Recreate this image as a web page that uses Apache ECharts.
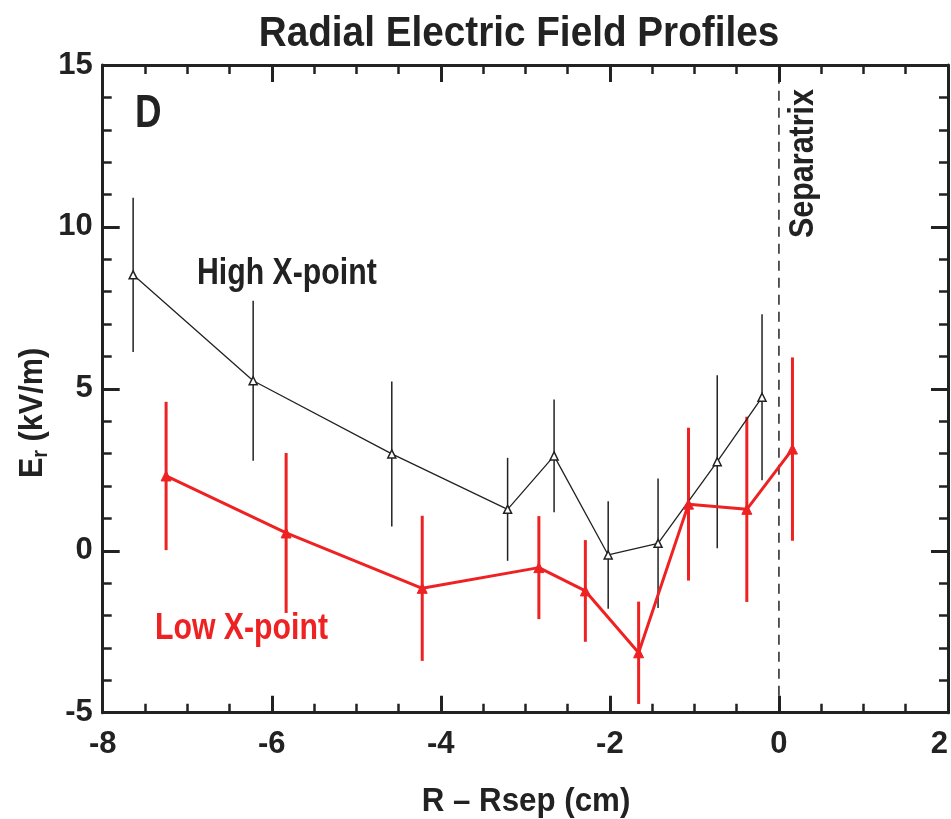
<!DOCTYPE html>
<html><head><meta charset="utf-8">
<script src="https://cdn.jsdelivr.net/npm/echarts@6/dist/echarts.min.js"></script>
<style>html,body{margin:0;padding:0;background:#fff}#c{width:951px;height:819px}</style>
</head><body><div id="c"></div>
<script>
const highX = [-7.64, -6.22, -4.58, -3.21, -2.66, -2.02, -1.43, -0.73, -0.20];
const highY = [8.52, 5.25, 2.99, 1.28, 2.93, -0.13, 0.23, 2.75, 4.74];
const highErr = [2.38, 2.47, 2.24, 1.59, 1.74, 1.66, 2.0, 2.67, 2.56];
const lowX = [-7.25, -5.83, -4.22, -2.84, -2.29, -1.66, -1.07, -0.38, 0.16];
const lowY = [2.31, 0.55, -1.16, -0.52, -1.24, -3.15, 1.44, 1.28, 3.14];
const lowErr = [2.29, 2.47, 2.24, 1.59, 1.57, 1.58, 2.36, 2.86, 2.83];
const xTicks = [-8, -6, -4, -2, 0, 2];
const yTicks = [-5, 0, 5, 10, 15];

const FONT = "'Liberation Sans',Arial,sans-serif";
const INK = '#222';
const RED = '#ee2222';
const chart = echarts.init(document.getElementById('c'));
function pts(xs, ys){ return xs.map((x,i)=>[x, ys[i]]); }
function errData(xs, ys, es){ return xs.map((x,i)=>[x, ys[i]-es[i], ys[i]+es[i]]); }
function errSeries(data, color, width){
  return {
    type:'custom', data, z:2, silent:true,
    renderItem(params, api){
      const p1 = api.coord([api.value(0), api.value(1)]);
      const p2 = api.coord([api.value(0), api.value(2)]);
      return {type:'line', shape:{x1:p1[0], y1:p1[1], x2:p2[0], y2:p2[1]}, style:{stroke:color, lineWidth:width}};
    }
  };
}
const axisLine = {show:true, onZero:false, lineStyle:{color:INK, width:3}};
const tick = {show:true, inside:true, length:17, lineStyle:{color:INK, width:3}};
const minor = (n)=>({show:true, splitNumber:n, length:9, lineStyle:{color:INK, width:2.5}});
function label(text, x, y, size, sx, color, extra){
  return Object.assign({type:'text', x, y, scaleX:sx, style:{text, fontFamily:FONT, fontWeight:'bold', fontSize:size, fill:color||INK, align:'left', verticalAlign:'top'}}, extra||{});
}
chart.setOption({
  animation:false,
  grid:{left:102.7, right:3, top:65, bottom:106.3, outerBoundsMode:'none', containLabel:false},
  xAxis:[{
    type:'value', min:-8, max:2, interval:2, position:'bottom',
    axisLine, axisTick:tick, minorTick:minor(4), splitLine:{show:false},
    axisLabel:{fontFamily:FONT, fontWeight:'bold', fontSize:31, color:INK, margin:16, alignMaxLabel:'right',
      formatter:v=>xTicks.includes(v)?String(v):''}
  },{
    type:'value', min:-8, max:2, interval:2, position:'top',
    axisLine, axisTick:tick, minorTick:minor(4), splitLine:{show:false}, axisLabel:{show:false}
  }],
  yAxis:[{
    type:'value', min:-5, max:15, interval:5, position:'left',
    axisLine, axisTick:tick, minorTick:minor(5), splitLine:{show:false},
    axisLabel:{fontFamily:FONT, fontWeight:'bold', fontSize:31, color:INK, margin:10,
      formatter:v=>yTicks.includes(v)?String(v):''}
  },{
    type:'value', min:-5, max:15, interval:5, position:'right',
    axisLine, axisTick:tick, minorTick:minor(5), splitLine:{show:false}, axisLabel:{show:false}
  }],
  graphic:[
    {type:'text', x:519, y:13, scaleX:0.9, style:{text:'Radial Electric Field Profiles', fontFamily:FONT, fontWeight:'bold', fontSize:43, fill:INK, align:'center', verticalAlign:'top'}},
    label('D', 135, 91, 46, 0.8),
    label('High X-point', 197, 256, 36, 0.84),
    label('Low X-point', 155, 611, 36, 0.84, RED),
    {type:'text', x:786, y:238, rotation:Math.PI/2, scaleX:0.87, style:{text:'Separatrix', fontFamily:FONT, fontWeight:'bold', fontSize:35, fill:INK, align:'left', verticalAlign:'top'}},
    {type:'text', x:526, y:785, scaleX:0.92, style:{text:'R – Rsep (cm)', fontFamily:FONT, fontWeight:'bold', fontSize:34, fill:INK, align:'center', verticalAlign:'top'}},
    {type:'text', x:14, y:413, rotation:Math.PI/2, scaleX:0.9, style:{
      text:'{a|E}{b|r}{a| (kV/m)}', align:'center', verticalAlign:'top',
      rich:{
        a:{fontFamily:FONT, fontWeight:'bold', fontSize:34, fill:INK, color:INK},
        b:{fontFamily:FONT, fontWeight:'bold', fontSize:22, fill:INK, color:INK, verticalAlign:'bottom', padding:[16,0,0,0]}
      }}}
  ],
  series:[
    {type:'line', xAxisIndex:0, yAxisIndex:0, data:[[0,-5],[0,15]], symbol:'none', silent:true,
      lineStyle:{color:INK, width:1.5, type:[10,7]}, z:1},
    errSeries(errData(highX, highY, highErr), INK, 1.5),
    errSeries(errData(lowX, lowY, lowErr), RED, 3),
    {type:'line', data:pts(highX, highY), symbol:'triangle', symbolSize:8, z:3,
      lineStyle:{color:INK, width:1.3}, itemStyle:{color:'#fff', borderColor:INK, borderWidth:1.5}},
    {type:'line', data:pts(lowX, lowY), symbol:'triangle', symbolSize:10, z:4,
      lineStyle:{color:RED, width:3}, itemStyle:{color:RED, borderColor:RED}}
  ]
});
</script></body></html>
